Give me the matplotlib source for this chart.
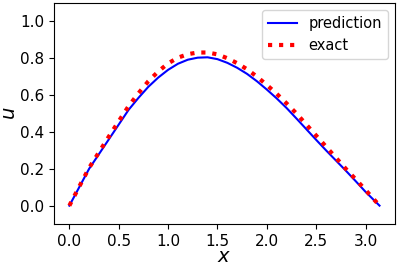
import matplotlib
matplotlib.use('Agg')
import matplotlib.pyplot as plt
import numpy as np

# values
x_vals = [0.0, 0.1, 0.2, 0.3, 0.4, 0.5, 0.6, 0.7, 0.8, 0.9, 1.0,
          1.1, 1.2, 1.3, 1.4, 1.5, 1.6, 1.7, 1.8, 1.9, 2.0,
          2.1, 2.2, 2.3, 2.4, 2.5, 2.6, 2.7, 2.8, 2.9, 3.0, 3.1, np.pi]
prediction = [0.0, 0.10, 0.20, 0.28, 0.36, 0.44, 0.52, 0.585, 0.645, 0.695, 0.737,
              0.770, 0.792, 0.803, 0.805, 0.795, 0.775, 0.748, 0.715, 0.675, 0.630,
              0.582, 0.530, 0.473, 0.415, 0.357, 0.300, 0.245, 0.190, 0.133, 0.075, 0.022, 0.0]
exact = [0.0, 0.103, 0.205, 0.29, 0.375, 0.458, 0.54, 0.61, 0.675, 0.728, 0.772,
         0.803, 0.822, 0.831, 0.831, 0.821, 0.80, 0.773, 0.74, 0.70, 0.655,
         0.607, 0.555, 0.50, 0.44, 0.38, 0.32, 0.26, 0.20, 0.143, 0.085, 0.025, 0.0]

fig = plt.figure(figsize=(3.99, 2.68), dpi=100)
ax = fig.add_axes([0.135, 0.164, 0.855, 0.825])

ax.plot(x_vals, prediction, 'b-', lw=1.5, label='prediction')
ax.plot(x_vals, exact, 'r:', lw=3, label='exact')

ax.set_ylim(-0.1, 1.1)
ax.set_yticks([0.0, 0.2, 0.4, 0.6, 0.8, 1.0])
ax.set_xticks([0.0, 0.5, 1.0, 1.5, 2.0, 2.5, 3.0])
ax.tick_params(labelsize=11)
ax.set_xlabel('$x$', fontsize=14, labelpad=-1)
ax.set_ylabel('$u$', fontsize=14, labelpad=1)
ax.legend(loc='upper right', fontsize=10.5)

fig.savefig('out.png', dpi=100)
